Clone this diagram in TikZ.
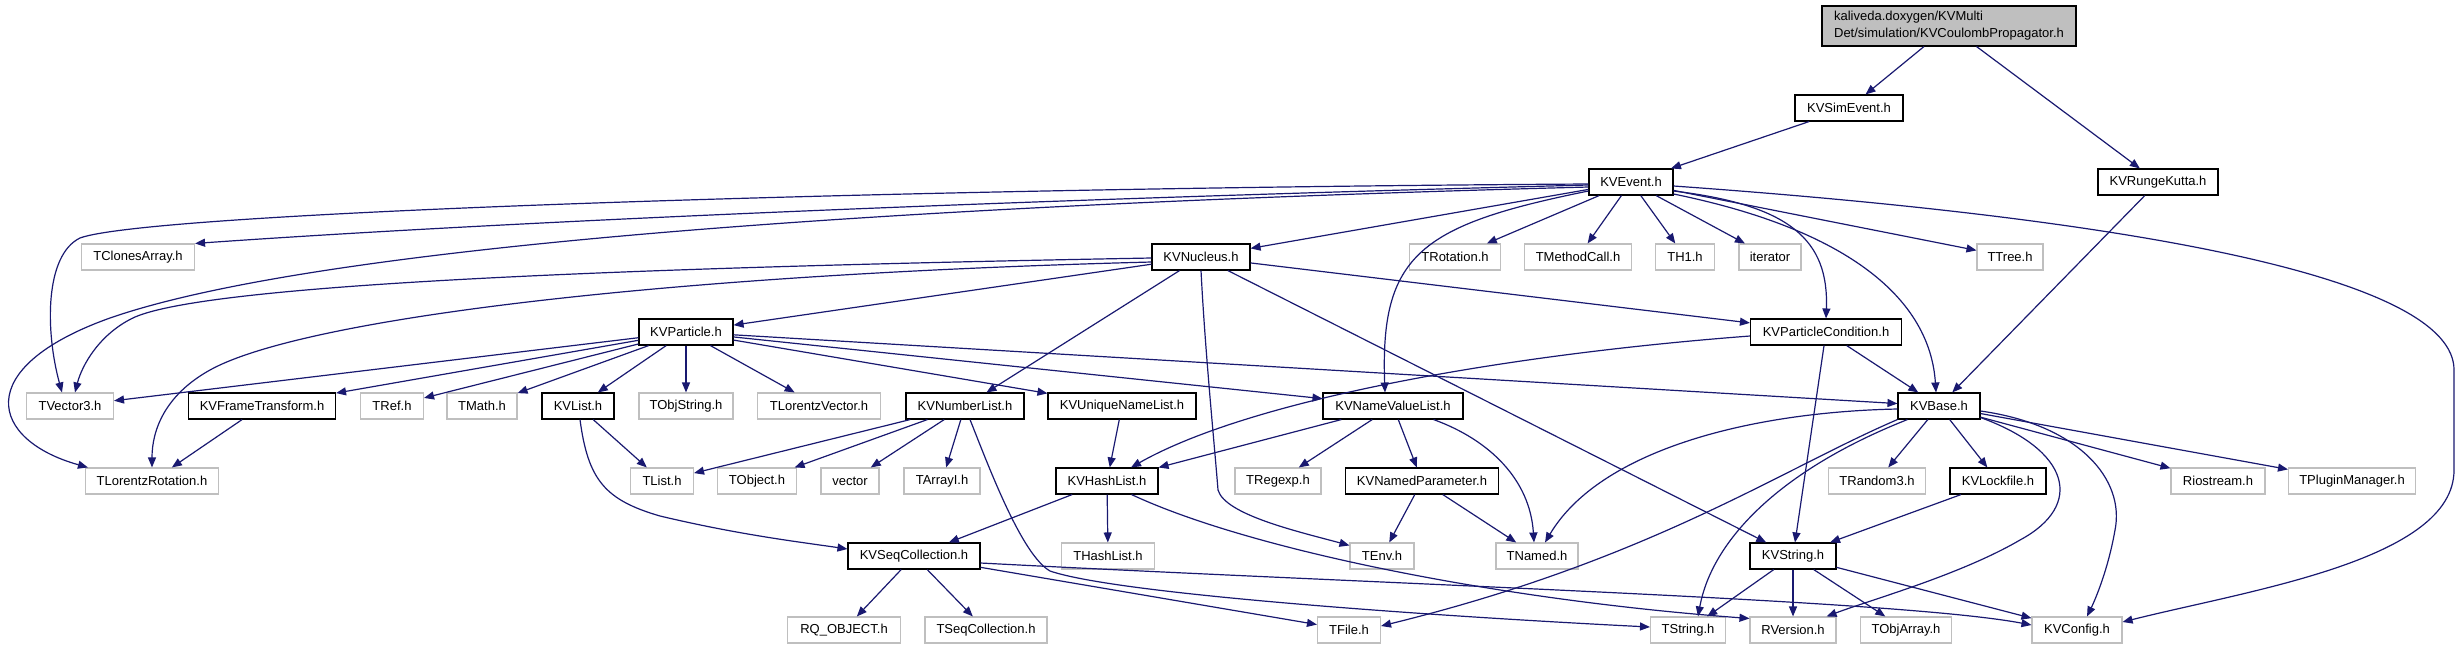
\documentclass[tikz,border=0pt]{standalone}
\usepackage{fontspec}
\setmainfont{Liberation Sans}
\usetikzlibrary{arrows.meta,calc}
\definecolor{edgec}{HTML}{191970}
\definecolor{grayb}{HTML}{BFBFBF}
\begin{document}
\begin{tikzpicture}[x=0.5pt,y=-0.5pt,
  font=\fontsize{6.5}{7.8}\selectfont,
  base/.style={draw, rectangle, inner sep=0pt, minimum height=13pt, fill=white, line width=0.55pt},
  kv/.style={base, draw=black},
  ext/.style={base, draw=grayb},
  w/.style={minimum width=#1*0.5pt},
  e/.style={draw=edgec, line width=0.6pt, -{Triangle[length=5pt,width=4pt]}}]
\useasboundingbox (0,0) rectangle (2460,649);
% root
\node[kv, fill=grayb, w=254, minimum height=20pt, align=left, font=\fontsize{6.5}{8.4}\selectfont] (root) at (1949,26) {kaliveda.doxygen/KVMulti\\Det/simulation/KVCoulombPropagator.h};
\node[kv, w=108] (KVSimEvent) at (1849,108) {KVSimEvent.h};
\node[kv, w=84] (KVEvent) at (1631,182) {KVEvent.h};
\node[kv, w=120] (KVRungeKutta) at (2158,182) {KVRungeKutta.h};
% row 257
\node[ext, w=113] (TClonesArray) at (138,257) {TClonesArray.h};
\node[kv, w=98] (KVNucleus) at (1201,257) {KVNucleus.h};
\node[ext, w=91] (TRotation) at (1455,257) {TRotation.h};
\node[ext, w=107] (TMethodCall) at (1578,257) {TMethodCall.h};
\node[ext, w=59] (TH1) at (1685,257) {TH1.h};
\node[ext, w=62] (iterator) at (1770,257) {iterator};
\node[ext, w=66] (TTree) at (2010,257) {TTree.h};
% row 332
\node[kv, w=94] (KVParticle) at (686,332) {KVParticle.h};
\node[kv, w=151] (KVParticleCondition) at (1826,332) {KVParticleCondition.h};
% row 406
\node[ext, w=87] (TVector3) at (70,406) {TVector3.h};
\node[kv, w=147] (KVFrameTransform) at (262,406) {KVFrameTransform.h};
\node[ext, w=63] (TRef) at (392,406) {TRef.h};
\node[ext, w=70] (TMath) at (482,406) {TMath.h};
\node[kv, w=72] (KVList) at (578,406) {KVList.h};
\node[ext, w=94] (TObjString) at (686,406) {TObjString.h};
\node[ext, w=123] (TLorentzVector) at (819,406) {TLorentzVector.h};
\node[kv, w=118] (KVNumberList) at (965,406) {KVNumberList.h};
\node[kv, w=148] (KVUniqueNameList) at (1122,406) {KVUniqueNameList.h};
\node[kv, w=140] (KVNameValueList) at (1393,406) {KVNameValueList.h};
\node[kv, w=82] (KVBase) at (1939,406) {KVBase.h};
% row 481
\node[ext, w=133] (TLorentzRotation) at (152,481) {TLorentzRotation.h};
\node[ext, w=63] (TList) at (662,481) {TList.h};
\node[ext, w=79] (TObject) at (757,481) {TObject.h};
\node[ext, w=58] (vector) at (850,481) {vector};
\node[ext, w=76] (TArrayI) at (942,481) {TArrayI.h};
\node[kv, w=102] (KVHashList) at (1107,481) {KVHashList.h};
\node[ext, w=86] (TRegexp) at (1278,481) {TRegexp.h};
\node[kv, w=153] (KVNamedParameter) at (1422,481) {KVNamedParameter.h};
\node[ext, w=97] (TRandom3) at (1877,481) {TRandom3.h};
\node[kv, w=96] (KVLockfile) at (1998,481) {KVLockfile.h};
\node[ext, w=94] (Riostream) at (2218,481) {Riostream.h};
\node[ext, w=127] (TPluginManager) at (2352,481) {TPluginManager.h};
% row 556
\node[kv, w=132] (KVSeqCollection) at (914,556) {KVSeqCollection.h};
\node[ext, w=93] (THashList) at (1108,556) {THashList.h};
\node[ext, w=64] (TEnv) at (1382,556) {TEnv.h};
\node[ext, w=82] (TNamed) at (1537,556) {TNamed.h};
\node[kv, w=86] (KVString) at (1793,556) {KVString.h};
% row 630
\node[ext, w=113] (RQOBJECT) at (844,630) {RQ\_OBJECT.h};
\node[ext, w=122] (TSeqCollection) at (986,630) {TSeqCollection.h};
\node[ext, w=63] (TFile) at (1349,630) {TFile.h};
\node[ext, w=75] (TString) at (1688,630) {TString.h};
\node[ext, w=86] (RVersion) at (1793,630) {RVersion.h};
\node[ext, w=91] (TObjArray) at (1906,630) {TObjArray.h};
\node[ext, w=90] (KVConfig) at (2077,630) {KVConfig.h};

% edges
\draw[e] (root) -- (KVSimEvent);
\draw[e] (root) -- (KVRungeKutta);
\draw[e] (KVSimEvent) -- (KVEvent);
\draw[e] (KVRungeKutta) -- (KVBase);
% KVEvent
\draw[e] (KVEvent) -- (KVNucleus);
\draw[e] (KVEvent) -- (TRotation);
\draw[e] (KVEvent) -- (TMethodCall);
\draw[e] (KVEvent) -- (TH1);
\draw[e] (KVEvent) -- (iterator);
\draw[e] (KVEvent) -- (TTree);
\draw[e] ($(KVEvent.west)+(0,3)$) .. controls (1000,200) and (500,222) .. (TClonesArray.north east);
\draw[e] ($(KVEvent.west)+(0,2)$) .. controls (900,188) and (150,212) .. (80,238) .. controls (45,255) and (45,330) .. ($(TVector3.north)+(-8,0)$);
\draw[e] ($(KVEvent.west)+(0,5)$) .. controls (900,205) and (320,245) .. (110,318) .. controls (-30,368) and (-10,440) .. ($(TLorentzRotation.north west)+(3,0)$);
\draw[e] ($(KVEvent.west)+(0,9)$) .. controls (1420,225) and (1380,255) .. ($(KVNameValueList.north)+(-8,0)$);
\draw[e] ($(KVEvent.east)+(0,9)$) .. controls (1790,205) and (1829,240) .. (KVParticleCondition.north);
\draw[e] ($(KVEvent.east)+(0,12)$) .. controls (1850,230) and (1930,300) .. ($(KVBase.north)+(-3,0)$);
\draw[e] ($(KVEvent.east)+(0,4)$) .. controls (2150,220) and (2454,280) .. (2454,370) -- (2454,470) .. controls (2454,560) and (2250,590) .. ($(KVConfig.east)+(0,-8)$);
% KVNucleus
\draw[e] (KVNucleus) -- (KVParticle);
\draw[e] (KVNucleus) -- (KVNumberList);
\draw[e] (KVNucleus) -- (KVParticleCondition);
\draw[e] (KVNucleus) -- (KVString);
\draw[e] ($(KVNucleus.west)+(0,1)$) .. controls (600,268) and (210,285) .. (135,317) .. controls (100,333) and (82,365) .. ($(TVector3.north)+(5,0)$);
\draw[e] ($(KVNucleus.west)+(0,5)$) .. controls (650,275) and (300,320) .. (210,370) .. controls (165,395) and (152,430) .. (TLorentzRotation.north);
\draw[e] (KVNucleus.south) .. controls (1205,350) and (1214,440) .. (1218,490) .. controls (1225,515) and (1300,532) .. ($(TEnv.north west)+(0,3)$);
% KVParticle
\draw[e] (KVParticle) -- (TVector3);
\draw[e] (KVParticle) -- (KVFrameTransform);
\draw[e] (KVParticle) -- (TRef);
\draw[e] (KVParticle) -- (TMath);
\draw[e] (KVParticle) -- (KVList);
\draw[e] (KVParticle) -- (TObjString);
\draw[e] (KVParticle) -- (TLorentzVector);
\draw[e] (KVParticle) -- (KVUniqueNameList);
\draw[e] (KVParticle) -- (KVNameValueList);
\draw[e] (KVParticle) -- (KVBase);
% row 406 sources
\draw[e] (KVFrameTransform) -- (TLorentzRotation);
\draw[e] (KVList) -- (TList);
\draw[e] ($(KVList.south)+(2,0)$) .. controls (588,480) and (605,500) .. (660,516) .. controls (740,535) and (800,542) .. ($(KVSeqCollection.west)+(0,-7)$);
\draw[e] (KVNumberList) -- (TList);
\draw[e] (KVNumberList) -- (TObject);
\draw[e] (KVNumberList) -- (vector);
\draw[e] (KVNumberList) -- (TArrayI);
\draw[e] ($(KVNumberList.south)+(5,0)$) .. controls (990,470) and (1022,555) .. (1050,571) .. controls (1120,595) and (1450,617) .. ($(TString.west)+(0,-3)$);
\draw[e] (KVUniqueNameList) -- (KVHashList);
\draw[e] (KVNameValueList) -- (KVHashList);
\draw[e] (KVNameValueList) -- (TRegexp);
\draw[e] (KVNameValueList) -- (KVNamedParameter);
\draw[e] ($(KVNameValueList.south east)+(-30,0)$) .. controls (1490,440) and (1530,480) .. ($(TNamed.north)+(-3,0)$);
% KVParticleCondition
\draw[e] ($(KVParticleCondition.west)+(0,4)$) .. controls (1500,355) and (1250,400) .. ($(KVHashList.north)+(24,0)$);
\draw[e] (KVParticleCondition) -- (KVString);
\draw[e] (KVParticleCondition) -- (KVBase);
% KVBase
\draw[e] ($(KVBase.west)+(0,3)$) .. controls (1750,412) and (1600,450) .. ($(TNamed.north)+(8,0)$);
\draw[e] (KVBase.south west) .. controls (1780,470) and (1650,560) .. ($(TFile.east)+(0,-4)$);
\draw[e] ($(KVBase.south west)+(10,0)$) .. controls (1780,470) and (1712,540) .. ($(TString.north)+(10,0)$);
\draw[e] (KVBase) -- (TRandom3);
\draw[e] (KVBase) -- (KVLockfile);
\draw[e] (KVBase) -- (Riostream);
\draw[e] (KVBase) -- (TPluginManager);
\draw[e] ($(KVBase.south east)+(0,-2)$) .. controls (2070,450) and (2085,505) .. (2020,540) .. controls (1960,575) and (1870,600) .. ($(RVersion.north east)+(-10,0)$);
\draw[e] ($(KVBase.east)+(0,5)$) .. controls (2080,425) and (2125,480) .. (2115,530) .. controls (2108,570) and (2095,600) .. ($(KVConfig.north)+(10,0)$);
% row 481 sources
\draw[e] (KVLockfile) -- (KVString);
\draw[e] (KVHashList) -- (KVSeqCollection);
\draw[e] (KVHashList) -- (THashList);
\draw[e] ($(KVHashList.south east)+(-27,0)$) .. controls (1250,550) and (1500,600) .. ($(RVersion.north west)+(0,2)$);
\draw[e] (KVNamedParameter) -- (TEnv);
\draw[e] (KVNamedParameter) -- (TNamed);
% row 556 sources
\draw[e] (KVSeqCollection) -- (RQOBJECT);
\draw[e] (KVSeqCollection) -- (TSeqCollection);
\draw[e] (KVSeqCollection) -- (TFile);
\draw[e] ($(KVSeqCollection.east)+(0,7)$) .. controls (1400,585) and (1900,600) .. ($(KVConfig.west)+(0,-5)$);
\draw[e] (KVString) -- (TString);
\draw[e] (KVString) -- (RVersion);
\draw[e] (KVString) -- (TObjArray);
\draw[e] (KVString) -- (KVConfig);
\end{tikzpicture}
\end{document}
